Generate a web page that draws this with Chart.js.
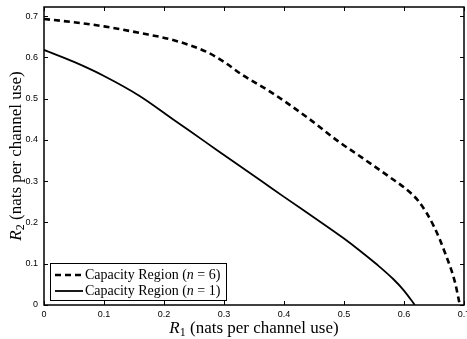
<!DOCTYPE html>
<html>
<head>
<meta charset="utf-8">
<script src="https://cdn.jsdelivr.net/npm/chart.js@4/dist/chart.umd.min.js"></script>
<style>
  html, body { margin: 0; padding: 0; background: #fff; }
  #wrap { width: 467px; height: 339px; }
</style>
</head>
<body>
<div id="wrap"><canvas id="regionChart" width="467" height="339"></canvas></div>
<script>
// capacity region, n = 6 (dashed)
const n6R1 = [0, 0.05, 0.10, 0.16, 0.215, 0.27, 0.30, 0.33, 0.38, 0.44, 0.49, 0.53, 0.58, 0.60, 0.625, 0.65, 0.67, 0.685, 0.693];
const n6R2 = [0.693, 0.685, 0.675, 0.659, 0.642, 0.614, 0.589, 0.558, 0.514, 0.453, 0.397, 0.357, 0.306, 0.285, 0.25, 0.19, 0.12, 0.055, 0];

// capacity region, n = 1 (solid)
const n1R1 = [0, 0.05, 0.10, 0.16, 0.216, 0.27, 0.327, 0.36, 0.40, 0.45, 0.50, 0.527, 0.555, 0.582, 0.60, 0.618];
const n1R2 = [0.618, 0.589, 0.555, 0.506, 0.449, 0.394, 0.336, 0.303, 0.262, 0.212, 0.161, 0.131, 0.098, 0.063, 0.035, 0];

const xTicks = [0, 0.1, 0.2, 0.3, 0.4, 0.5, 0.6, 0.7];
const yTicks = [0, 0.1, 0.2, 0.3, 0.4, 0.5, 0.6, 0.7];

const legendLabels = ['6', '1'];

function pairs(xs, ys) {
    return xs.map((x, i) => ({ x: x, y: ys[i] }));
}

const serif = '"Liberation Serif", "DejaVu Serif", serif';

// draw text pieces [text, font, dy] left to right
function drawPieces(ctx, pieces, x, y) {
    for (const p of pieces) {
        ctx.font = p[1];
        ctx.fillText(p[0], x, y + (p[2] || 0));
        x += ctx.measureText(p[0]).width;
    }
}
function piecesWidth(ctx, pieces) {
    let w = 0;
    for (const p of pieces) {
        ctx.font = p[1];
        w += ctx.measureText(p[0]).width;
    }
    return w;
}

const framePlugin = {
    id: 'frame',
    afterDatasetsDraw(chart) {
        const ctx = chart.ctx;
        const a = chart.chartArea;
        const xs = chart.scales.x, ys = chart.scales.y;
        ctx.save();
        ctx.strokeStyle = '#000';
        ctx.lineWidth = 1.5;
        ctx.strokeRect(a.left, a.top, a.right - a.left, a.bottom - a.top);

        // inward ticks on all four sides
        ctx.lineWidth = 1;
        ctx.beginPath();
        for (const v of xTicks) {
            const px = Math.round(xs.getPixelForValue(v)) + 0.5;
            ctx.moveTo(px, a.bottom); ctx.lineTo(px, a.bottom - 4);
            ctx.moveTo(px, a.top); ctx.lineTo(px, a.top + 4);
        }
        for (const v of yTicks) {
            const py = Math.round(ys.getPixelForValue(v)) + 0.5;
            ctx.moveTo(a.left, py); ctx.lineTo(a.left + 4, py);
            ctx.moveTo(a.right, py); ctx.lineTo(a.right - 4, py);
        }
        ctx.stroke();

        // legend box
        const bx = 50.5, by = 263.5, bw = 176, bh = 37;
        ctx.fillStyle = '#fff';
        ctx.fillRect(bx, by, bw, bh);
        ctx.lineWidth = 1;
        ctx.strokeRect(bx, by, bw, bh);
        ctx.fillStyle = '#000';
        ctx.textBaseline = 'middle';
        chart.data.datasets.forEach((ds, i) => {
            const ry = by + 11.5 + i * 16;
            ctx.save();
            ctx.lineWidth = ds.borderWidth;
            ctx.setLineDash(ds.borderDash || []);
            ctx.beginPath();
            ctx.moveTo(55, ry); ctx.lineTo(83, ry);
            ctx.stroke();
            ctx.restore();
            drawPieces(ctx, [
                ['Capacity Region (', '14px ' + serif],
                ['n', 'italic 14px ' + serif],
                [' = ' + legendLabels[i] + ')', '14px ' + serif]
            ], 85, ry);
        });

        // axis titles
        ctx.textBaseline = 'alphabetic';
        const xt = [
            ['R', 'italic 17px ' + serif],
            ['1', '12px ' + serif, 3],
            [' (nats per channel use)', '17px ' + serif]
        ];
        const cx = (a.left + a.right) / 2;
        drawPieces(ctx, xt, cx - piecesWidth(ctx, xt) / 2, 333);

        ctx.translate(21, (a.top + a.bottom) / 2);
        ctx.rotate(-Math.PI / 2);
        const yt = [
            ['R', 'italic 17px ' + serif],
            ['2', '12px ' + serif, 3],
            [' (nats per channel use)', '17px ' + serif]
        ];
        drawPieces(ctx, yt, -piecesWidth(ctx, yt) / 2, 0);
        ctx.restore();
    }
};

const tickFont = { family: '"Liberation Sans", Arial, sans-serif', size: 9 };

new Chart(document.getElementById('regionChart'), {
    type: 'line',
    data: {
        datasets: [
            {
                label: 'Capacity Region (n = 6)',
                data: pairs(n6R1, n6R2),
                borderColor: '#000',
                borderWidth: 2.6,
                borderDash: [6, 4],
                pointRadius: 0,
                cubicInterpolationMode: 'monotone',
                fill: false
            },
            {
                label: 'Capacity Region (n = 1)',
                data: pairs(n1R1, n1R2),
                borderColor: '#000',
                borderWidth: 1.8,
                pointRadius: 0,
                cubicInterpolationMode: 'monotone',
                fill: false
            }
        ]
    },
    options: {
        responsive: false,
        animation: false,
        layout: { padding: { top: 7, right: 3, left: 0, bottom: 0 } },
        plugins: {
            legend: { display: false },
            tooltip: { enabled: false }
        },
        scales: {
            x: {
                type: 'linear',
                min: 0,
                max: 0.7,
                grid: { display: false, drawTicks: false },
                border: { display: false },
                afterFit: s => { s.height = 34; s.paddingLeft = 0; s.paddingRight = 0; },
                afterBuildTicks: s => { s.ticks = xTicks.map(v => ({ value: v })); },
                ticks: {
                    color: '#000',
                    font: tickFont,
                    padding: 4,
                    maxRotation: 0,
                    callback: v => String(+v.toFixed(1))
                }
            },
            y: {
                type: 'linear',
                min: 0,
                max: 0.722,
                grid: { display: false, drawTicks: false },
                border: { display: false },
                afterFit: s => { s.width = 44; s.paddingTop = 0; s.paddingBottom = 0; },
                afterBuildTicks: s => { s.ticks = yTicks.map(v => ({ value: v })); },
                ticks: {
                    color: '#000',
                    font: tickFont,
                    padding: 6,
                    callback: v => String(+v.toFixed(1))
                }
            }
        }
    },
    plugins: [framePlugin]
});
</script>
</body>
</html>
